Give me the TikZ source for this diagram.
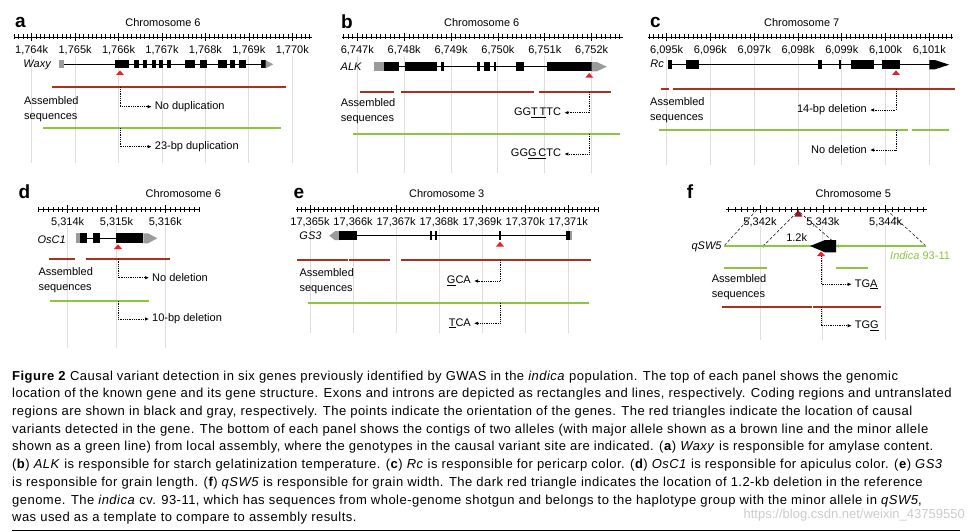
\documentclass[tikz,border=0pt]{standalone}
\usepackage{fontspec}
\setmainfont{Liberation Sans}
\usetikzlibrary{arrows.meta}
\definecolor{AlleleBrown}{HTML}{A8321E}
\definecolor{AlleleGreen}{HTML}{8CC63E}
\definecolor{VarRed}{HTML}{E8202A}
\definecolor{DelRed}{HTML}{8E1B1B}
\definecolor{UTRGray}{HTML}{9B9B9B}
\definecolor{GridGray}{HTML}{E2DCDC}
\tikzset{
    panellabel/.style={
        font=\fontsize{19}{19}\selectfont\bfseries,
        inner sep=0pt,
        anchor=base west
    },
    chromlabel/.style={
        font=\fontsize{11}{12}\selectfont,
        inner sep=0pt,
        anchor=base
    },
    ticklabel/.style={
        font=\fontsize{11}{12}\selectfont,
        inner sep=0pt,
        anchor=base
    },
    genename/.style={
        font=\fontsize{11}{12}\selectfont\itshape,
        inner sep=0pt,
        anchor=base east
    },
    asmlabel/.style={
        font=\fontsize{11}{15}\selectfont,
        inner sep=0pt,
        align=left,
        anchor=west
    },
    alleletext/.style={
        font=\fontsize{11}{12}\selectfont,
        inner ysep=1pt,
        inner xsep=3pt
    },
    gridline/.style={
        draw=GridGray,
        line width=0.9pt
    },
    rulerline/.style={
        draw=black,
        line width=0.7pt
    },
    intron/.style={
        draw=black,
        line width=0.9pt
    },
    exon/.style={fill=black},
    utr/.style={fill=UTRGray},
    majorallele/.style={
        draw=AlleleBrown,
        line width=1.8pt
    },
    minorallele/.style={
        draw=AlleleGreen,
        line width=1.8pt
    },
    varlink/.style={
        densely dotted,
        line width=0.8pt,
        -{Latex[length=4pt,width=3.5pt]}
    },
    varmark/.style={fill=VarRed},
    maplink/.style={
        densely dashed,
        line width=0.5pt
    },
    caption/.style={
        font=\fontsize{13}{17.7}\selectfont\addfontfeatures{LetterSpace=3.6},
        inner sep=0pt,
        align=left,
        anchor=north west
    }
}

\begin{document}
\begin{tikzpicture}[x=1pt,y=-1pt]
    \fill[white] (0,0) rectangle (975,532);
    \useasboundingbox (0,0) rectangle (975,532);

    % Panel a: Waxy
    \foreach \i in {0,...,6} \draw[gridline] (31.7+\i*43.43,56) -- ++(0,107);
    \node[panellabel] (a-tag) at (15,28) {a};
    \node[chromlabel] (a-chrom) at (163,27) {Chromosome 6};
    \draw[rulerline] (14,37) -- (312,37);
    \foreach \k in {-4,...,64} \draw[rulerline] (31.7+\k*4.343,34.5) -- ++(0,5);
    \foreach \n [count=\i from 0] in {764,...,770} {
        \draw[rulerline] (31.7+\i*43.43,33) -- ++(0,8);
        \node[ticklabel] (a-t\n) at (31.7+\i*43.43,54) {1,\n k};
    }
    \node[genename] (a-gene) at (51,68) {Waxy};
    \draw[intron] (64,64.3) -- (268,64.3);
    \fill[utr] (59,60.3) rectangle (64.3,68.3);
    \foreach \a/\b in {115/129.3,134.3/139.3,142.7/146.7,151.7/156,159.3/163.3,166.7/170.7,185/195,200/207.3,218.3/226.7,230/235,239.3/246,261/265.7}
        \fill[exon] (\a,60.3) rectangle (\b,68.3);
    \fill[utr] (265.7,60.3) -- (273.3,64.3) -- (265.7,68.3) -- cycle;
    \fill[varmark] (120,70.5) -- (124,75) -- (116,75) -- cycle;
    \draw[majorallele] (52.3,87.3) -- (286,87.3);
    \draw[minorallele] (43.3,128.3) -- (281,128.3);
    \node[asmlabel] (a-asm) at (24,109.2) {Assembled\\sequences};
    \coordinate (a-maj) at (120,87.3);
    \coordinate (a-min) at (120,128.3);
    \node[alleletext, anchor=west] (a-majtxt) at (151.7,106.7) {No duplication};
    \node[alleletext, anchor=west] (a-mintxt) at (151.7,146.7) {23-bp duplication};
    \draw[varlink] (a-maj) |- (a-majtxt.west);
    \draw[varlink] (a-min) |- (a-mintxt.west);

    % Panel b: ALK
    \foreach \i in {0,...,5} \draw[gridline] (357.3+\i*46.87,56) -- ++(0,117);
    \node[panellabel] (b-tag) at (341,28.3) {b};
    \node[chromlabel] (b-chrom) at (481.7,27) {Chromosome 6};
    \draw[rulerline] (342,37) -- (623.3,37);
    \foreach \k in {-3,...,56} \draw[rulerline] (357.3+\k*4.687,34.5) -- ++(0,5);
    \foreach \n [count=\i from 0] in {747,...,752} {
        \draw[rulerline] (357.3+\i*46.87,33) -- ++(0,8);
        \node[ticklabel] (b-t\n) at (357.3+\i*46.87,54) {6,\n k};
    }
    \node[genename] (b-gene) at (361.7,71) {ALK};
    \draw[intron] (384,66.7) -- (546.7,66.7);
    \fill[utr] (374,62.1) rectangle (384,71.3);
    \foreach \a/\b in {384/399,405/436.7,441/444.3,476.7/480.3,484.3/489.7,494.3/496.3,516.3/524.3,546.7/591.7}
        \fill[exon] (\a,62.1) rectangle (\b,71.3);
    \fill[utr] (591.7,62.1) -- (597,62.1) -- (606.7,66.7) -- (597,71.3) -- (591.7,71.3) -- cycle;
    \fill[varmark] (589.3,73) -- (593.3,77.7) -- (585.3,77.7) -- cycle;
    \draw[majorallele] (360,92) -- (394,92);
    \draw[majorallele] (400.7,92) -- (534,92);
    \draw[majorallele] (539,92) -- (611,92);
    \draw[minorallele] (353.3,134) -- (620,134);
    \node[asmlabel] (b-asm) at (340.7,111.3) {Assembled\\sequences};
    \coordinate (b-maj) at (589.3,92);
    \coordinate (b-min) at (589.3,134);
    \node[alleletext, anchor=east] (b-majtxt) at (564.3,112.7) {GG\underline{T\,T}TC};
    \node[alleletext, anchor=east] (b-mintxt) at (564.3,154) {GG\underline{G\,C}TC};
    \draw[varlink] (b-maj) |- (b-majtxt.east);
    \draw[varlink] (b-min) |- (b-mintxt.east);

    % Panel c: Rc
    \foreach \i in {0,...,6} \draw[gridline] (666.7+\i*43.77,56) -- ++(0,109);
    \node[panellabel] (c-tag) at (650,27.7) {c};
    \node[chromlabel] (c-chrom) at (801.7,27) {Chromosome 7};
    \draw[rulerline] (648.3,37) -- (953.3,37);
    \foreach \k in {-4,...,65} \draw[rulerline] (666.7+\k*4.377,34.5) -- ++(0,5);
    \foreach \n [count=\i from 0] in {095,096,097,098,099,100,101} {
        \draw[rulerline] (666.7+\i*43.77,33) -- ++(0,8);
        \node[ticklabel] (c-t\n) at (666.7+\i*43.77,54) {6,\n k};
    }
    \node[genename] (c-gene) at (664,68) {Rc};
    \draw[intron] (671.7,64.7) -- (930,64.7);
    \foreach \a/\b in {668.3/671.7,686/699.3,818.3/822,839.3/841.3,850.7/874.3,882.3/900}
        \fill[exon] (\a,60.1) rectangle (\b,69.3);
    \fill[exon] (929.3,60.1) -- (935,60.1) -- (949.3,64.7) -- (935,69.3) -- (929.3,69.3) -- cycle;
    \fill[varmark] (896,70.3) -- (900,75) -- (892,75) -- cycle;
    \draw[majorallele] (660.7,89.3) -- (669.3,89.3);
    \draw[majorallele] (672.7,89.3) -- (955,89.3);
    \draw[minorallele] (659.3,130) -- (908.3,130);
    \draw[minorallele] (911.7,130) -- (949,130);
    \node[asmlabel] (c-asm) at (650,110) {Assembled\\sequences};
    \coordinate (c-maj) at (896,89.3);
    \coordinate (c-min) at (896,130);
    \node[alleletext, anchor=east] (c-majtxt) at (870,110) {14-bp deletion};
    \node[alleletext, anchor=east] (c-mintxt) at (870,150) {No deletion};
    \draw[varlink] (c-maj) |- (c-majtxt.east);
    \draw[varlink] (c-min) |- (c-mintxt.east);

    % Panel d: OsC1
    \foreach \i in {0,...,2} \draw[gridline] (67.7+\i*48.8,226) -- ++(0,122);
    \node[panellabel] (d-tag) at (18.3,199) {d};
    \node[chromlabel] (d-chrom) at (183.3,197.5) {Chromosome 6};
    \draw[rulerline] (38.3,209.3) -- (200,209.3);
    \foreach \k in {-6,...,27} \draw[rulerline] (67.7+\k*4.88,206.8) -- ++(0,5);
    \foreach \n [count=\i from 0] in {314,...,316} {
        \draw[rulerline] (67.7+\i*48.8,205.3) -- ++(0,8);
        \node[ticklabel] (d-t\n) at (67.7+\i*48.8,225) {5,\n k};
    }
    \node[genename] (d-gene) at (66,243) {OsC1};
    \draw[intron] (87,238.3) -- (116,238.3);
    \fill[utr] (76,233.3) rectangle (80,243.3);
    \foreach \a/\b in {80/87.3,93.3/100,116/143.3}
        \fill[exon] (\a,233.3) rectangle (\b,243.3);
    \fill[utr] (143.3,233.3) -- (148,233.3) -- (157.3,238.3) -- (148,243.3) -- (143.3,243.3) -- cycle;
    \fill[varmark] (118,244.3) -- (122,249) -- (114,249) -- cycle;
    \draw[majorallele] (49.3,258.7) -- (75,258.7);
    \draw[majorallele] (86,258.7) -- (170,258.7);
    \draw[minorallele] (50,300.7) -- (149.3,300.7);
    \node[asmlabel] (d-asm) at (38.3,280) {Assembled\\sequences};
    \coordinate (d-maj) at (118,258.7);
    \coordinate (d-min) at (118,300.7);
    \node[alleletext, anchor=west] (d-majtxt) at (149,277.7) {No deletion};
    \node[alleletext, anchor=west] (d-mintxt) at (149,319) {10-bp deletion};
    \draw[varlink] (d-maj) |- (d-majtxt.west);
    \draw[varlink] (d-min) |- (d-mintxt.west);

    % Panel e: GS3
    \foreach \i in {0,...,6} \draw[gridline] (310+\i*43.05,226) -- ++(0,107);
    \node[panellabel] (e-tag) at (293.3,199) {e};
    \node[chromlabel] (e-chrom) at (446.7,197.5) {Chromosome 3};
    \draw[rulerline] (296,209.3) -- (598.3,209.3);
    \foreach \k in {-3,...,67} \draw[rulerline] (310+\k*4.305,206.8) -- ++(0,5);
    \foreach \n [count=\i from 0] in {365,...,371} {
        \draw[rulerline] (310+\i*43.05,205.3) -- ++(0,8);
        \node[ticklabel] (e-t\n) at (310+\i*43.05,225) {17,\n k};
    }
    \node[genename] (e-gene) at (321.7,239.5) {GS3};
    \draw[intron] (357.3,235.7) -- (565.7,235.7);
    \fill[utr] (329.3,235.7) -- (335,231.2) -- (339.3,231.2) -- (339.3,240.2) -- (335,240.2) -- cycle;
    \foreach \a/\b in {339.3/357.3,430/432,435.3/437,499.3/501.3,565.7/570}
        \fill[exon] (\a,231.2) rectangle (\b,240.2);
    \fill[utr] (570,231.2) rectangle (571.7,240.2);
    \fill[varmark] (500,241.7) -- (504,246.5) -- (496,246.5) -- cycle;
    \draw[majorallele] (297.3,260) -- (348.3,260);
    \draw[majorallele] (349,260) -- (390,260);
    \draw[majorallele] (401,260) -- (590.7,260);
    \draw[minorallele] (307.7,302.7) -- (589.3,302.7);
    \node[asmlabel] (e-asm) at (299.3,281.3) {Assembled\\sequences};
    \coordinate (e-maj) at (500,260);
    \coordinate (e-min) at (500,302.7);
    \node[alleletext, anchor=east] (e-majtxt) at (474,281) {\underline{G}CA};
    \node[alleletext, anchor=east] (e-mintxt) at (474,323.3) {\underline{T}CA};
    \draw[varlink] (e-maj) |- (e-majtxt.east);
    \draw[varlink] (e-min) |- (e-mintxt.east);

    % Panel f: qSW5
    \foreach \i in {0,...,2} \draw[gridline] (760+\i*62.85,226) -- ++(0,114);
    \node[panellabel] (f-tag) at (686.7,199) {f};
    \node[chromlabel] (f-chrom) at (853.3,197.5) {Chromosome 5};
    \draw[rulerline] (726,209.3) -- (926.7,209.3);
    \foreach \k in {-5,...,26} \draw[rulerline] (760+\k*6.285,206.8) -- ++(0,5);
    \foreach \n [count=\i from 0] in {342,...,344} {
        \draw[rulerline] (760+\i*62.85,205.3) -- ++(0,8);
        \node[ticklabel] (f-t\n) at (760+\i*62.85,225) {5,\n k};
    }
    \fill[DelRed] (798.3,210) -- (802.3,216.5) -- (794.3,216.5) -- cycle;
    \draw[maplink] (756.7,210) -- (724,246);
    \draw[maplink] (796.7,212.5) -- (763.3,246);
    \draw[maplink] (800,212.5) -- (838.3,246);
    \draw[maplink] (886.7,210) -- (926,246);
    \node[genename] (f-gene) at (721.7,249) {qSW5};
    \draw[minorallele] (724,246) -- (926,246);
    \fill[AlleleGreen] (763.3,246) circle (1.8);
    \fill[AlleleGreen] (838.3,246) circle (1.8);
    \fill[exon] (810,246) -- (825,240) -- (836,240) -- (836,252.3) -- (825,252.3) -- cycle;
    \node[chromlabel] (f-ins) at (796.7,241.7) {1.2k};
    \node[chromlabel, anchor=base west, text=AlleleGreen] (f-ref) at (890,259) {\textit{Indica} 93-11};
    \fill[varmark] (821,251.5) -- (825,256) -- (817,256) -- cycle;
    \draw[minorallele] (724,267.7) -- (767.3,267.7);
    \draw[minorallele] (835.7,267.7) -- (868.3,267.7);
    \draw[majorallele] (722.3,307.3) -- (811.7,307.3);
    \draw[majorallele] (812.7,307.3) -- (881,307.3);
    \node[asmlabel] (f-asm) at (711.7,286.7) {Assembled\\sequences};
    \coordinate (f-min) at (821,256);
    \coordinate (f-maj) at (821,307.3);
    \node[alleletext, anchor=west] (f-mintxt) at (851.7,284.3) {TG\underline{A}};
    \node[alleletext, anchor=west] (f-majtxt) at (851.7,325.7) {TG\underline{G}};
    \draw[varlink] (f-min) |- (f-mintxt.west);
    \draw[varlink] (f-maj) |- (f-majtxt.west);

    % Caption
    \node[caption] (cap) at (12,370.5) {%
        \textbf{Figure 2} Causal variant detection in six genes previously identified by GWAS in the \textit{indica} population. The top of each panel shows the genomic\\
        location of the known gene and its gene structure. Exons and introns are depicted as rectangles and lines, respectively. Coding regions and untranslated\\
        regions are shown in black and gray, respectively. The points indicate the orientation of the genes. The red triangles indicate the location of causal\\
        variants detected in the gene. The bottom of each panel shows the contigs of two alleles (with major allele shown as a brown line and the minor allele\\
        shown as a green line) from local assembly, where the genotypes in the causal variant site are indicated. (\textbf{a}) \textit{Waxy} is responsible for amylase content.\\
        (\textbf{b}) \textit{ALK} is responsible for starch gelatinization temperature. (\textbf{c}) \textit{Rc} is responsible for pericarp color. (\textbf{d}) \textit{OsC1} is responsible for apiculus color. (\textbf{e}) \textit{GS3}\\
        is responsible for grain length. (\textbf{f}) \textit{qSW5} is responsible for grain width. The dark red triangle indicates the location of 1.2-kb deletion in the reference\\
        genome. The \textit{indica} cv. 93-11, which has sequences from whole-genome shotgun and belongs to the haplotype group with the minor allele in \textit{qSW5},\\
        was used as a template to compare to assembly results.};
    \node[font=\fontsize{13}{14}\selectfont, text=gray!40, inner sep=0pt, anchor=base east] (mark) at (965,518) {https://blog.csdn.net/weixin\_43759550};
    \draw[line width=0.8pt] (12,530) -- (960,530);
\end{tikzpicture}
\end{document}
